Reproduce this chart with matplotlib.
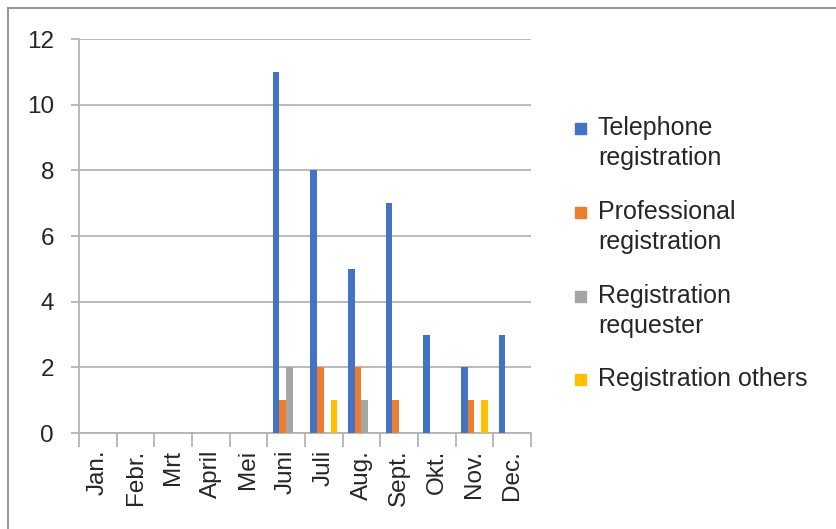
import numpy as np
import matplotlib
matplotlib.use('Agg')
import matplotlib.pyplot as plt
from matplotlib.lines import Line2D
from matplotlib.patches import Rectangle

# Данные
months = ['Jan.', 'Febr.', 'Mrt', 'April', 'Mei', 'Juni', 'Juli', 'Aug.',
          'Sept.', 'Okt.', 'Nov.', 'Dec.']
telephone = [0, 0, 0, 0, 0, 11, 8, 5, 7, 3, 2, 3]
professional = [0, 0, 0, 0, 0, 1, 2, 2, 1, 0, 1, 0]
requester = [0, 0, 0, 0, 0, 2, 0, 1, 0, 0, 0, 0]
others = [0, 0, 0, 0, 0, 0, 1, 0, 0, 0, 1, 0]

series = [telephone, professional, requester, others]
labels = ['Telephone\nregistration', 'Professional\nregistration',
          'Registration\nrequester', 'Registration others']
colors = ['#4472C4', '#ED7D31', '#A5A5A5', '#FFC000']

plt.rcParams['font.family'] = ['Liberation Sans', 'DejaVu Sans']
text_color = '#262626'
grid_color = '#B4B4B4'

fig = plt.figure(figsize=(8.36, 5.29), dpi=100)
ax = fig.add_axes([79 / 836, 1 - 433 / 529, (531 - 79) / 836, (433 - 39) / 529])

x = np.arange(len(months))
w = 0.178
for i, vals in enumerate(series):
    ax.bar(x + (i - 1.5) * w, vals, width=w, color=colors[i], zorder=3)

ax.set_xlim(-0.5, len(months) - 0.5)
ax.set_ylim(0, 12)
ax.set_yticks(range(0, 13, 2))
ax.yaxis.grid(True, color=grid_color, linewidth=1.3, zorder=0)
ax.tick_params(axis='y', length=6, color=grid_color, width=1.3,
               labelsize=17.5, labelcolor=text_color, pad=12)

# Деления оси X на границах категорий
ax.set_xticks(np.arange(-0.5, len(months), 1))
ax.set_xticklabels([])
ax.set_xticks(x, minor=True)
ax.set_xticklabels(months, minor=True, rotation=90, fontsize=17.5,
                   color=text_color)
ax.tick_params(axis='x', which='major', length=10, color=grid_color, width=1.3)
ax.tick_params(axis='x', which='minor', length=0, pad=12)

for s in ['top', 'right']:
    ax.spines[s].set_visible(False)
for s in ['left', 'bottom']:
    ax.spines[s].set_color(grid_color)
    ax.spines[s].set_linewidth(1.3)

# Легенда
leg_y = [128, 212, 296, 379]
for i, lab in enumerate(labels):
    yc = 1 - leg_y[i] / 529
    fig.patches.append(Rectangle((575 / 836, yc - 5.5 / 529), 11 / 836, 11 / 529,
                                 transform=fig.transFigure, color=colors[i]))
    fig.text(598 / 836, 1 - (leg_y[i] - 12) / 529, lab, fontsize=18,
             color=text_color, va='top', ha='left', linespacing=1.3)

# Рамка
fig.add_artist(Line2D([8 / 836, 8 / 836], [0, 1 - 8 / 529],
                      transform=fig.transFigure, color='#8C8C8C', linewidth=1.3))
fig.add_artist(Line2D([8 / 836, 1], [1 - 8 / 529, 1 - 8 / 529],
                      transform=fig.transFigure, color='#8C8C8C', linewidth=1.3))

fig.savefig('out.png', dpi=100)
